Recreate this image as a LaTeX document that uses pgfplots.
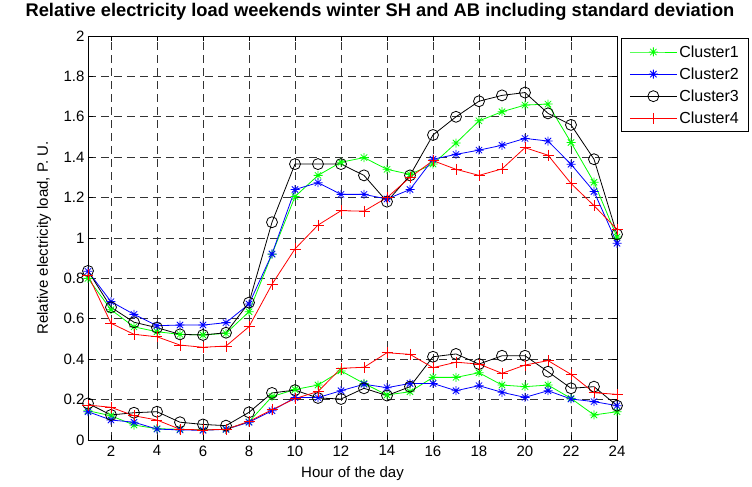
\documentclass[border=0pt]{standalone}
\usepackage{fontspec}
\setmainfont{Liberation Sans}
\usepackage{pgfplots}
\usepackage{pgfplotstable}
\pgfplotsset{compat=1.18}

% matlab-like '*' marker (plus and cross together)
\pgfdeclareplotmark{mstar}{%
  \pgfpathmoveto{\pgfqpoint{0pt}{\pgfplotmarksize}}\pgfpathlineto{\pgfqpoint{0pt}{-\pgfplotmarksize}}%
  \pgfpathmoveto{\pgfqpoint{\pgfplotmarksize}{0pt}}\pgfpathlineto{\pgfqpoint{-\pgfplotmarksize}{0pt}}%
  \pgfpathmoveto{\pgfqpoint{.707\pgfplotmarksize}{.707\pgfplotmarksize}}\pgfpathlineto{\pgfqpoint{-.707\pgfplotmarksize}{-.707\pgfplotmarksize}}%
  \pgfpathmoveto{\pgfqpoint{.707\pgfplotmarksize}{-.707\pgfplotmarksize}}\pgfpathlineto{\pgfqpoint{-.707\pgfplotmarksize}{.707\pgfplotmarksize}}%
  \pgfusepathqstroke}

% mean load (upper curves)
\pgfplotstableread{
h  c1    c2    c3    c4
1  0.800 0.835 0.837 0.817
2  0.645 0.685 0.657 0.578
3  0.560 0.622 0.583 0.523
4  0.536 0.566 0.556 0.511
5  0.523 0.569 0.523 0.470
6  0.520 0.569 0.520 0.459
7  0.528 0.581 0.531 0.465
8  0.635 0.673 0.680 0.561
9  0.920 0.921 1.078 0.771
10 1.205 1.240 1.366 0.946
11 1.310 1.274 1.366 1.064
12 1.375 1.216 1.366 1.135
13 1.398 1.216 1.310 1.133
14 1.340 1.193 1.180 1.200
15 1.315 1.240 1.310 1.300
16 1.366 1.390 1.510 1.383
17 1.470 1.414 1.600 1.340
18 1.580 1.435 1.677 1.310
19 1.625 1.459 1.706 1.342
20 1.658 1.493 1.720 1.447
21 1.663 1.480 1.617 1.410
22 1.473 1.365 1.560 1.270
23 1.276 1.230 1.390 1.160
24 1.005 0.974 1.018 1.043
}\meantab

% standard deviation (lower curves)
\pgfplotstableread{
h  c1    c2    c3    c4
1  0.145 0.140 0.181 0.173
2  0.120 0.099 0.124 0.162
3  0.074 0.088 0.135 0.120
4  0.056 0.054 0.140 0.099
5  0.053 0.050 0.088 0.053
6  0.050 0.048 0.077 0.050
7  0.053 0.053 0.071 0.053
8  0.090 0.088 0.137 0.092
9  0.215 0.145 0.233 0.150
10 0.250 0.210 0.247 0.205
11 0.272 0.210 0.208 0.240
12 0.342 0.244 0.203 0.355
13 0.280 0.276 0.256 0.360
14 0.223 0.259 0.220 0.432
15 0.239 0.280 0.264 0.424
16 0.310 0.280 0.412 0.358
17 0.310 0.244 0.426 0.385
18 0.333 0.269 0.376 0.376
19 0.272 0.236 0.417 0.330
20 0.264 0.211 0.417 0.371
21 0.272 0.244 0.338 0.393
22 0.206 0.203 0.256 0.325
23 0.124 0.190 0.264 0.234
24 0.140 0.170 0.170 0.226
}\stdtab

\begin{document}
\begin{tikzpicture}
\begin{axis}[
    scale only axis,
    width=529pt, height=404pt,
    xmin=1, xmax=24,
    ymin=0, ymax=2,
    xtick={2,4,...,24},
    ytick={0,0.2,...,2.01},
    tick align=inside,
    major tick length=5pt,
    /pgf/number format/assume math mode=true,
    ticklabel style={font=\fontsize{15}{17}\selectfont},
    xticklabel style={yshift=-2pt},
    label style={font=\fontsize{15}{18}\selectfont, inner sep=0pt},
    xlabel={Hour of the day},
    ylabel={Relative electricity load, P. U.},
    xlabel style={at={(axis description cs:0.5,0)}, anchor=center, yshift=-34pt},
    ylabel style={at={(axis description cs:0,0.5)}, anchor=center, yshift=44pt},
    title={\bfseries Relative electricity load weekends winter SH and AB including standard deviation},
    title style={font=\fontsize{18.3}{21}\selectfont, inner sep=0pt, at={(current axis.north west)}, anchor=center, xshift=292pt, yshift=18.5pt},
    grid=major,
    grid style={black!80, dash pattern=on 8pt off 5pt, line width=0.8pt},
    axis line style={line width=0.9pt},
    every tick/.style={black, line width=0.8pt},
    clip=false,
    legend style={at={(1,1)}, anchor=north west, xshift=4pt, yshift=-2pt,
        font=\fontsize{16}{19}\selectfont, draw=black, line width=0.9pt,
        row sep=5pt, inner xsep=8pt, inner ysep=5pt},
    legend cell align=left,
    legend image code/.code={%
        \draw[mark repeat=2, mark phase=2] plot coordinates {(0pt,0pt) (23.5pt,0pt) (47pt,0pt)};},
    every axis plot/.append style={line width=0.8pt},
]
\addplot[color={rgb,255:red,0;green,255;blue,0}, mark=mstar, mark size=4.5pt] table[x=h, y=c1] {\meantab};
\addlegendentry{Cluster1}
\addplot[color=blue, mark=mstar, mark size=4.5pt] table[x=h, y=c2] {\meantab};
\addlegendentry{Cluster2}
\addplot[color=black, mark=o, mark size=5.5pt] table[x=h, y=c3] {\meantab};
\addlegendentry{Cluster3}
\addplot[color=red, mark=+, mark size=5.5pt] table[x=h, y=c4] {\meantab};
\addlegendentry{Cluster4}

\addplot[forget plot, color={rgb,255:red,0;green,255;blue,0}, mark=mstar, mark size=4.5pt] table[x=h, y=c1] {\stdtab};
\addplot[forget plot, color=blue, mark=mstar, mark size=4.5pt] table[x=h, y=c2] {\stdtab};
\addplot[forget plot, color=black, mark=o, mark size=5.5pt] table[x=h, y=c3] {\stdtab};
\addplot[forget plot, color=red, mark=+, mark size=5.5pt] table[x=h, y=c4] {\stdtab};
\end{axis}
\path ([xshift=-88pt,yshift=-47pt]current axis.south west) rectangle ([xshift=135pt,yshift=36pt]current axis.north east);
\end{tikzpicture}
\end{document}
